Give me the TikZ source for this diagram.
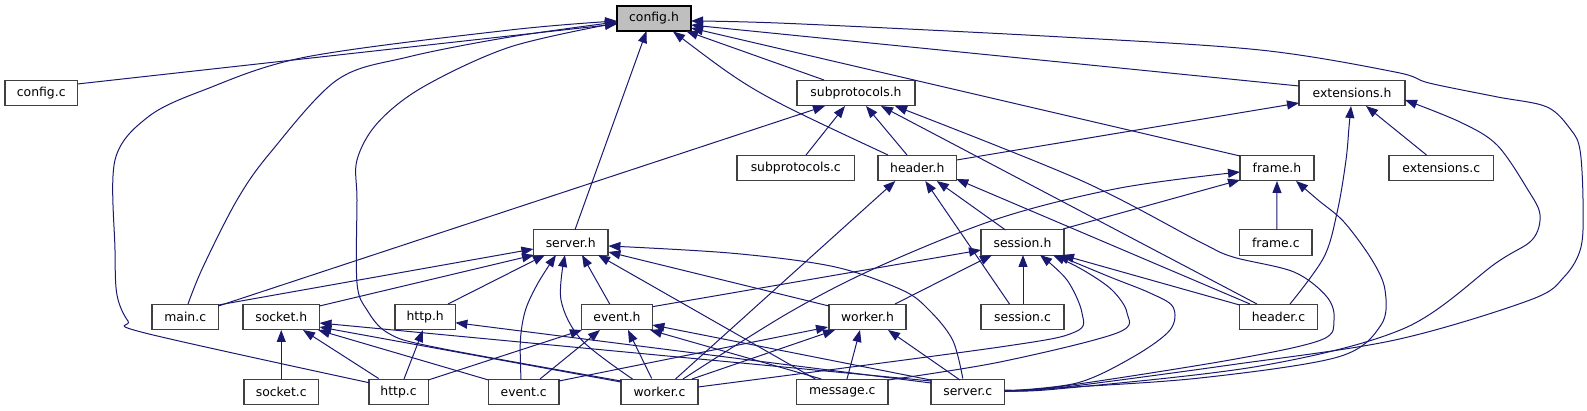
\documentclass[tikz,border=0pt]{standalone}
\usepackage{fontspec}
\setmainfont{DejaVu Sans}
\usetikzlibrary{arrows.meta}
\definecolor{edgeblue}{RGB}{25,25,112}
\definecolor{boxgray}{RGB}{64,64,64}
\definecolor{rootfill}{RGB}{191,191,191}
\tikzset{
  nd/.style={draw=boxgray, line width=1.2pt, fill=white, minimum height=25.5pt, inner sep=0pt,
    font=\fontsize{12.4}{14}\selectfont},
  root/.style={nd, draw=black, fill=rootfill},
  edge/.style={draw=edgeblue, line width=1pt, -{Triangle[length=12pt,width=9pt]}},
  sm/.style={smooth, tension=0.55}
}
\newcommand\edg[4]{\draw[edge] ([shift={(#2)}]#1.center) -- ([shift={(#4)}]#3.center);}
\begin{document}
\begin{tikzpicture}[x=1pt,y=-1pt]
\useasboundingbox (0,0) rectangle (1587,411);
% nodes
\node[root, minimum width=74pt, minimum height=25pt] (config_h) at (654,18.5) {config.h};
\node[nd, minimum width=72.5pt] (config_c) at (41.25,93) {config.c};
\node[nd, minimum width=118pt] (subprotocols_h) at (856,93) {subprotocols.h};
\node[nd, minimum width=106pt] (extensions_h) at (1352,93) {extensions.h};
\node[nd, minimum width=117.5pt] (subprotocols_c) at (795.75,168) {subprotocols.c};
\node[nd, minimum width=78.6pt] (header_h) at (917.3,168) {header.h};
\node[nd, minimum width=74pt] (frame_h) at (1277,168) {frame.h};
\node[nd, minimum width=104.4pt] (extensions_c) at (1441.2,168) {extensions.c};
\node[nd, minimum width=74.6pt] (server_h) at (570.7,242.5) {server.h};
\node[nd, minimum width=83pt] (session_h) at (1022.5,242.5) {session.h};
\node[nd, minimum width=72.4pt] (frame_c) at (1275.8,242.5) {frame.c};
\node[nd, minimum width=66.4pt] (main_c) at (185.2,317) {main.c};
\node[nd, minimum width=76.5pt] (socket_h) at (281.25,317) {socket.h};
\node[nd, minimum width=60.4pt] (http_h) at (425.2,317) {http.h};
\node[nd, minimum width=71pt] (event_h) at (617,317) {event.h};
\node[nd, minimum width=77pt] (worker_h) at (867.5,317) {worker.h};
\node[nd, minimum width=83pt] (session_c) at (1022.5,317) {session.c};
\node[nd, minimum width=77.7pt] (header_c) at (1278.5,317) {header.c};
\node[nd, minimum width=74.5pt] (socket_c) at (281.25,392) {socket.c};
\node[nd, minimum width=59.3pt] (http_c) at (398.6,392) {http.c};
\node[nd, minimum width=70.5pt] (event_c) at (523.75,392) {event.c};
\node[nd, minimum width=77pt] (worker_c) at (659.5,392) {worker.c};
\node[nd, minimum width=91.3pt] (message_c) at (842.3,392) {message.c};
\node[nd, minimum width=73.6pt] (server_c) at (967.8,392) {server.c};

% edges into config.h
\edg{config_c}{36.25,-9}{config_h}{-37,5.5}
\draw[edge] plot[sm] coordinates {([shift={(2.8,-13)}]main_c.center) (203,267) (237,200) (270,153) (337,80) (408,57) (510,37) ([shift={(-37,3.5)}]config_h.center)};
\draw[edge] plot[sm] coordinates {([shift={(-29.6,-9.3)}]http_c.center) (145,333) (128,321) (117,295) (115,250) (115,160) (148,117) (204,90) (306,57) (510,30) ([shift={(-37,2.5)}]config_h.center)};
\draw[edge] plot[sm] coordinates {([shift={(-38.5,-11)}]worker_c.center) (434,347) (388,333) (367,310) (357,283) (357,200) (357,160) (377.5,123) (423,87) (510,47) ([shift={(-37,4.5)}]config_h.center)};
\edg{server_h}{4.3,-12.8}{config_h}{-7.5,12.5}
\draw[edge] ([shift={(-29.3,-13)}]header_h.center) .. controls (753,92) .. ([shift={(19,13)}]config_h.center);
\edg{subprotocols_h}{-32,-13}{config_h}{32,12.5}
\edg{extensions_h}{-53,-7}{config_h}{37,6.5}
\edg{frame_h}{-37,-12}{config_h}{37,9.5}
\draw[edge] plot[sm] coordinates {([shift={(36.8,-1)}]server_c.center) (1057,388) (1230,365) (1395,340) (1530,300) (1564,277) (1581,247) (1583,200) (1580,150) (1571,130) (1547,107) (1496,96.7) (1429,83) (1395,72) (1260,50) (1057,36.7) (790,23.5) ([shift={(37,2.5)}]config_h.center)};

% subprotocols.h
\edg{main_c}{33.2,-11}{subprotocols_h}{-31,13}
\edg{subprotocols_c}{10.25,-13}{subprotocols_h}{-11,13}
\edg{header_h}{-10.3,-13}{subprotocols_h}{10,13}
\edg{header_c}{-21.5,-13}{subprotocols_h}{25,13}
\draw[edge] plot[sm] coordinates {([shift={(36.8,-2)}]server_c.center) (1057,387) (1230,360) (1321,340) (1334,320) (1327,297) (1294,272) (1233,257) (1200,242) (1080,180) ([shift={(39,13)}]subprotocols_h.center)};

% extensions.h
\edg{header_h}{39.3,-8}{extensions_h}{-53,10}
\draw[edge] plot[sm] coordinates {([shift={(11.5,-13)}]header_c.center) (1324,257) (1337.6,210) (1346,160) (1349,127) ([shift={(-1,13)}]extensions_h.center)};
\edg{extensions_c}{-14.7,-13}{extensions_h}{14,13}
\draw[edge] plot[sm] coordinates {([shift={(36.8,-1.5)}]server_c.center) (1057,389) (1260,366) (1405,328) (1496,263) (1532,240) (1540,215) (1528,190) (1497,145) (1460,122) ([shift={(53,7)}]extensions_h.center)};

% header.h
\edg{worker_c}{16,-13}{header_h}{-22,13}
\edg{session_c}{-13,-13}{header_h}{8,13}
\edg{session_h}{-17,-12.5}{header_h}{19.5,13}
\edg{header_c}{-28.5,-13}{header_h}{39,11}

% frame.h
\draw[edge] plot[sm] coordinates {([shift={(23.5,-13)}]worker_c.center) (790,312) (880,266) (1000,218) (1120,188) ([shift={(-37,4)}]frame_h.center)};
\edg{session_h}{40.5,-13.5}{frame_h}{-37,12}
\edg{frame_c}{1,-13}{frame_h}{0,13}
\draw[edge] plot[sm] coordinates {([shift={(36.8,-0.5)}]server_c.center) (1057,388) (1200,378) (1338,357) (1381,325) (1385,290) (1372,260) (1344,222) (1318,200) ([shift={(19,13)}]frame_h.center)};

% server.h
\edg{main_c}{33.2,-12}{server_h}{-37.3,6.5}
\edg{socket_h}{38.25,-11}{server_h}{-36.7,12.5}
\edg{http_h}{22.8,-13}{server_h}{-25.7,12.5}
\draw[edge] plot[sm] coordinates {([shift={(-2.75,-13)}]event_c.center) (520.4,340) (525.5,310) (538,283) ([shift={(-14.7,12.5)}]server_h.center)};
\draw[edge] plot[sm] coordinates {([shift={(-27,-13)}]worker_c.center) (581.6,340) (561,300) ([shift={(-5.7,12.5)}]server_h.center)};
\edg{event_h}{-7.3,-13}{server_h}{11.3,12.5}
\edg{message_c}{-27,-13}{server_h}{27.3,12.5}
\draw[edge] plot[sm] coordinates {([shift={(-5,-13.5)}]server_c.center) (952.6,340) (929,310) (902,290) (834,266.7) (733,253.3) ([shift={(37.7,3.5)}]server_h.center)};
\edg{worker_h}{-38.5,-11}{server_h}{37.7,9.5}

% session.h
\edg{event_h}{35.4,-10.3}{session_h}{-41.5,7.5}
\edg{worker_h}{27.5,-13}{session_h}{-30.5,12.5}
\edg{session_c}{0.5,-13}{session_h}{0.5,12.5}
\draw[edge] plot[sm] coordinates {([shift={(38.5,-5)}]worker_c.center) (1000,347) (1075,332) (1082,313) (1067,280) ([shift={(17.5,12.5)}]session_h.center)};
\draw[edge] plot[sm] coordinates {([shift={(45.7,-12)}]message_c.center) (1000,362) (1117,333) (1127,313) (1112,290) (1083,270) ([shift={(30.5,12.5)}]session_h.center)};
\draw[edge] plot[sm] coordinates {([shift={(36.8,-1)}]server_c.center) (1077,383) (1133,357) (1170,330) (1173,307) (1150,293) (1110,277) ([shift={(34.5,12.5)}]session_h.center)};
\edg{header_c}{-38.9,-12}{session_h}{39.5,12.5}

% socket.h
\edg{socket_c}{0,-13}{socket_h}{0,13}
\edg{http_c}{-20,-13.5}{socket_h}{21.75,13}
\edg{event_c}{-35.25,-12}{socket_h}{36.75,13}
\edg{worker_c}{-38.5,-10}{socket_h}{38.25,10}
\edg{server_c}{-36.8,-11}{socket_h}{38.25,6}

% http.h
\edg{http_c}{5.4,-13}{http_h}{-2.2,13}
\edg{server_c}{-36.8,-9}{http_h}{30.2,5.7}

% event.h
\edg{http_c}{29.7,-12}{event_h}{-35,13}
\edg{event_c}{16.25,-13}{event_h}{-17,13}
\edg{worker_c}{-7.8,-13.5}{event_h}{11,13}
\edg{message_c}{-21,-13}{event_h}{33,13}
\edg{server_c}{-37,-12}{event_h}{35.4,8}

% worker.h
\edg{event_c}{35.25,-11}{worker_h}{-39.5,10}
\edg{worker_c}{32.5,-13}{worker_h}{-32.5,13}
\edg{message_c}{4.7,-13}{worker_h}{-7.5,13}
\edg{server_c}{-7.8,-12}{worker_h}{20.5,13}
\end{tikzpicture}
\end{document}
